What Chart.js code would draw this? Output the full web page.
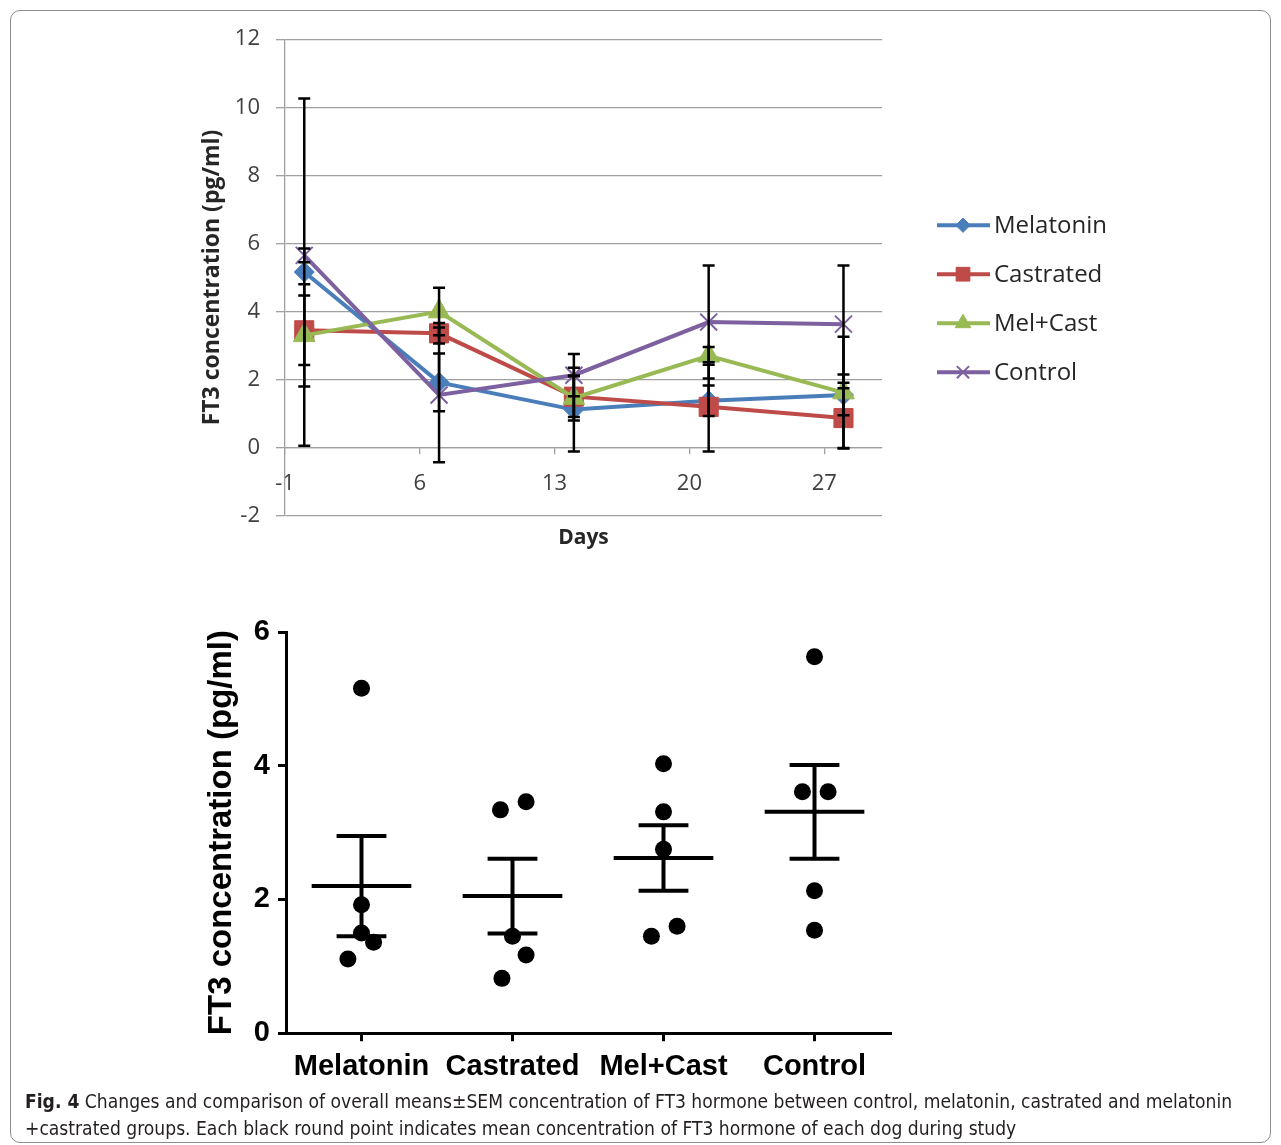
<!DOCTYPE html>
<html>
<head>
<meta charset="utf-8">
<script src="https://cdn.jsdelivr.net/npm/chart.js@4.4.1/dist/chart.umd.min.js"></script>
<style>
    html, body { margin: 0; padding: 0; background: #fff; }
    body { width: 1281px; height: 1145px; position: relative; overflow: hidden; }
    .frame { position: absolute; left: 10px; top: 10px; width: 1261px; height: 1133px; border: 1px solid #8c8c8c; border-radius: 10px; box-sizing: border-box; }
    #trend { position: absolute; left: 180px; top: 10px; }
    #scatter { position: absolute; left: 180px; top: 600px; }
    .caption { position: absolute; left: 25px; top: 1088px; font-family: 'DejaVu Sans Condensed', sans-serif; font-size: 19.1px; line-height: 27px; color: #231f20; white-space: nowrap; }
</style>
</head>
<body>
<div class="frame"></div>
<canvas id="trend" width="960" height="541"></canvas>
<canvas id="scatter" width="760" height="498"></canvas>
<div class="caption"><b>Fig. 4</b> Changes and comparison of overall means±SEM concentration of FT3 hormone between control, melatonin, castrated and melatonin<br>+castrated groups. Each black round point indicates mean concentration of FT3 hormone of each dog during study</div>
<script>
// top chart: FT3 by day, mean and SEM per group
const days = [0, 7, 14, 21, 28];
const dayTicks = [-1, 6, 13, 20, 27];
const seriesNames = ['Melatonin', 'Castrated', 'Mel+Cast', 'Control'];
const melatoninByDay = [5.16, 1.92, 1.12, 1.38, 1.55];
const melatoninSemByDay = [5.1, 0.85, 1.23, 0.45, 0.6];
const castratedByDay = [3.45, 3.36, 1.5, 1.2, 0.87];
const castratedSemByDay = [1.02, 0.3, 0.6, 1.31, 0.88];
const melCastByDay = [3.3, 4.0, 1.46, 2.7, 1.62];
const melCastSemByDay = [1.5, 0.7, 0.66, 0.26, 1.64];
const controlByDay = [5.65, 1.55, 2.13, 3.69, 3.63];
const controlSemByDay = [0.2, 1.98, 0.62, 1.66, 1.72];

// bottom chart: mean of each dog, group mean and SEM
const groupNames = ['Melatonin', 'Castrated', 'Mel+Cast', 'Control'];
const melatoninDogs = [5.16, 1.92, 1.5, 1.36, 1.11];
const castratedDogs = [3.34, 3.46, 1.45, 1.17, 0.82];
const melCastDogs = [4.03, 3.31, 2.75, 1.6, 1.45];
const controlDogs = [5.63, 3.61, 3.61, 2.13, 1.54];
const groupMeans = [2.2, 2.05, 2.62, 3.31];
const groupSems = [0.75, 0.56, 0.49, 0.7];

// horizontal spread of the dots so they do not overlap
const dogJitter = [
    [0, 0, 0, 0.08, -0.09],
    [-0.08, 0.09, 0, 0.09, -0.07],
    [0, 0, 0, 0.09, -0.08],
    [0, -0.08, 0.09, 0, 0],
];

const seriesColors = ['#4a7ebb', '#be4b48', '#98b954', '#7d60a0'];
const seriesMarkers = ['rectRot', 'rect', 'triangle', 'crossRot'];
const seriesMarkerSizes = [10, 13.5, 12.5, 12];

const gridGray = '#a0a0a0';
const tickFont = { family: "'Open Sans', sans-serif", size: 22 };

const errorBars = {
    id: 'errorBars',
    afterDatasetsDraw(chart) {
        const { ctx } = chart;
        const xs = chart.scales.x;
        const ys = chart.scales.y;

        ctx.save();
        ctx.strokeStyle = '#000';
        ctx.lineWidth = 2.5;
        chart.data.datasets.forEach((ds) => {
            ds.data.forEach((pt, i) => {
                const px = xs.getPixelForValue(pt.x);
                const top = ys.getPixelForValue(pt.y + ds.sem[i]);
                const bottom = ys.getPixelForValue(pt.y - ds.sem[i]);

                ctx.beginPath();
                ctx.moveTo(px, top);
                ctx.lineTo(px, bottom);
                ctx.moveTo(px - 6, top);
                ctx.lineTo(px + 6, top);
                ctx.moveTo(px - 6, bottom);
                ctx.lineTo(px + 6, bottom);
                ctx.stroke();
            });
        });
        ctx.restore();
    },
};

const sideLegend = {
    id: 'sideLegend',
    afterDraw(chart) {
        const { ctx, chartArea } = chart;
        const x0 = chartArea.right + 55;

        ctx.save();
        chart.data.datasets.forEach((ds, i) => {
            const y = chartArea.top + 186 + i * 49;

            ctx.strokeStyle = ds.borderColor;
            ctx.lineWidth = 4;
            ctx.beginPath();
            ctx.moveTo(x0, y);
            ctx.lineTo(x0 + 53, y);
            ctx.stroke();

            ctx.fillStyle = ds.pointBackgroundColor;
            ctx.strokeStyle = ds.pointBorderColor;
            ctx.lineWidth = ds.pointBorderWidth;
            Chart.helpers.drawPoint(ctx, {
                pointStyle: ds.pointStyle,
                radius: ds.pointRadius * 0.72,
                rotation: 0,
                borderWidth: ds.pointBorderWidth,
            }, x0 + 26, y);

            ctx.fillStyle = '#262626';
            ctx.font = "24px 'Open Sans', sans-serif";
            ctx.textAlign = 'left';
            ctx.textBaseline = 'middle';
            ctx.fillText(ds.label, x0 + 57, y + 1);
        });
        ctx.restore();
    },
};

const byDay = [melatoninByDay, castratedByDay, melCastByDay, controlByDay];
const semByDay = [melatoninSemByDay, castratedSemByDay, melCastSemByDay, controlSemByDay];

new Chart(document.getElementById('trend'), {
    type: 'line',
    data: {
        datasets: seriesNames.map((name, i) => ({
            label: name,
            data: days.map((d, k) => ({ x: d, y: byDay[i][k] })),
            sem: semByDay[i],
            borderColor: seriesColors[i],
            borderWidth: 4,
            pointStyle: seriesMarkers[i],
            pointRadius: seriesMarkerSizes[i],
            pointBackgroundColor: seriesColors[i],
            pointBorderColor: seriesColors[i],
            pointBorderWidth: seriesMarkers[i] === 'crossRot' ? 2 : 1,
            tension: 0,
            order: seriesNames.length - 1 - i,
        })),
    },
    options: {
        responsive: false,
        animation: false,
        layout: {
            padding: { top: 17, right: 258, left: 0, bottom: 0 },
        },
        plugins: {
            legend: { display: false },
            tooltip: { enabled: false },
        },
        scales: {
            x: {
                type: 'linear',
                min: -1,
                max: 30,
                position: { y: 0 },
                afterBuildTicks(scale) {
                    scale.ticks = dayTicks.map((v) => ({ value: v }));
                },
                ticks: {
                    color: '#404040',
                    font: tickFont,
                    padding: 17,
                    maxRotation: 0,
                    autoSkip: false,
                },
                grid: {
                    drawOnChartArea: false,
                    drawTicks: true,
                    tickLength: 6,
                    color: gridGray,
                    lineWidth: 1.3,
                },
                border: { color: gridGray, width: 1.3 },
            },
            xTitle: {
                type: 'linear',
                axis: 'x',
                position: 'bottom',
                ticks: { display: false },
                grid: { display: false, drawTicks: false },
                border: { display: false },
                title: {
                    display: true,
                    text: 'Days',
                    color: '#262626',
                    font: { family: "'Open Sans', sans-serif", size: 21, weight: 'bold' },
                    padding: { top: 10, bottom: 0 },
                },
            },
            y: {
                min: -2,
                max: 12,
                afterFit(scale) {
                    scale.width = 105;
                },
                ticks: {
                    stepSize: 2,
                    color: '#404040',
                    font: tickFont,
                    padding: 16,
                },
                grid: {
                    color: gridGray,
                    lineWidth: 1.3,
                    tickLength: 9,
                },
                border: { color: gridGray, width: 1.3 },
                title: {
                    display: true,
                    text: 'FT3 concentration (pg/ml)',
                    color: '#262626',
                    font: { family: "'Open Sans', sans-serif", size: 23, weight: 'bold' },
                    padding: { top: 19, bottom: 0 },
                },
            },
        },
    },
    plugins: [errorBars, sideLegend],
});

const meanAndSem = {
    id: 'meanAndSem',
    afterDatasetsDraw(chart) {
        const { ctx } = chart;
        const xs = chart.scales.x;
        const ys = chart.scales.y;

        ctx.save();
        ctx.strokeStyle = '#000';
        ctx.lineWidth = 4;
        groupMeans.forEach((mean, i) => {
            const cx = xs.getPixelForValue(i);
            const halfMean = xs.getPixelForValue(i + 0.33) - cx;
            const halfCap = xs.getPixelForValue(i + 0.165) - cx;
            const ym = ys.getPixelForValue(mean);
            const yt = ys.getPixelForValue(mean + groupSems[i]);
            const yb = ys.getPixelForValue(mean - groupSems[i]);

            ctx.beginPath();
            ctx.moveTo(cx - halfMean, ym);
            ctx.lineTo(cx + halfMean, ym);
            ctx.moveTo(cx, yt);
            ctx.lineTo(cx, yb);
            ctx.moveTo(cx - halfCap, yt);
            ctx.lineTo(cx + halfCap, yt);
            ctx.moveTo(cx - halfCap, yb);
            ctx.lineTo(cx + halfCap, yb);
            ctx.stroke();
        });
        ctx.restore();
    },
};

const dogs = [melatoninDogs, castratedDogs, melCastDogs, controlDogs];
const axisFont = { family: "'Liberation Sans', Arial, sans-serif", size: 29, weight: 'bold' };

new Chart(document.getElementById('scatter'), {
    type: 'scatter',
    data: {
        datasets: groupNames.map((name, i) => ({
            label: name,
            data: dogs[i].map((v, k) => ({ x: i + dogJitter[i][k], y: v })),
            pointRadius: 8.5,
            pointBackgroundColor: '#000',
            pointBorderWidth: 0,
        })),
    },
    options: {
        responsive: false,
        animation: false,
        layout: {
            padding: { top: 32, right: 50, left: 0, bottom: 6 },
        },
        plugins: {
            legend: { display: false },
            tooltip: { enabled: false },
        },
        scales: {
            x: {
                type: 'linear',
                min: -0.5,
                max: 3.5,
                afterBuildTicks(scale) {
                    scale.ticks = groupNames.map((_, i) => ({ value: i }));
                },
                ticks: {
                    callback: (value) => groupNames[value],
                    color: '#000',
                    font: axisFont,
                    padding: 8,
                    maxRotation: 0,
                    autoSkip: false,
                },
                grid: {
                    drawOnChartArea: false,
                    tickLength: 8,
                    lineWidth: 3,
                    color: '#000',
                },
                border: { color: '#000', width: 3 },
            },
            y: {
                min: 0,
                max: 6,
                afterFit(scale) {
                    scale.width = 106;
                },
                ticks: {
                    stepSize: 2,
                    color: '#000',
                    font: axisFont,
                    padding: 8,
                },
                grid: {
                    drawOnChartArea: false,
                    tickLength: 8,
                    lineWidth: 3,
                    color: '#000',
                },
                border: { color: '#000', width: 3 },
                title: {
                    display: true,
                    text: 'FT3 concentration (pg/ml)',
                    color: '#000',
                    font: { family: "'Liberation Sans', Arial, sans-serif", size: 33, weight: 'bold' },
                    padding: { top: 22, bottom: 0 },
                },
            },
        },
    },
    plugins: [meanAndSem],
});
</script>
</body>
</html>
